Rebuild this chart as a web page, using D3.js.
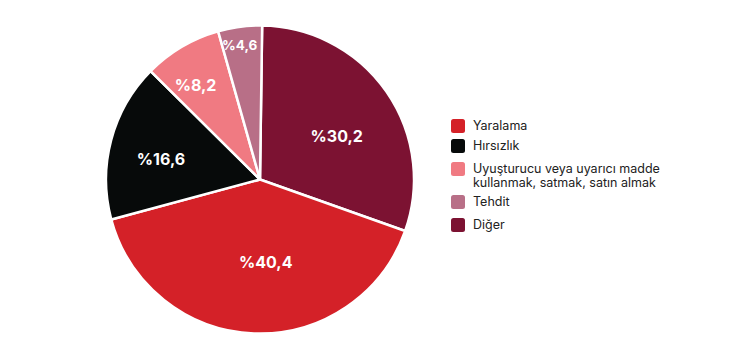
<!DOCTYPE html>
<html>
<head>
<meta charset="utf-8">
<script src="https://cdn.jsdelivr.net/npm/d3@7"></script>
<style>
  body { margin: 0; background: #fff; }
  svg { display: block; }
</style>
</head>
<body>
<div id="result"></div>
<script>
// chart data, clockwise from 12 o'clock
const categories = ['Diğer', 'Yaralama', 'Hırsızlık', 'Uyuşturucu veya uyarıcı madde kullanmak, satmak, satın almak', 'Tehdit'];
const values = [30.2, 40.4, 16.6, 8.2, 4.6];
const valueLabels = ['%30,2', '%40,4', '%16,6', '%8,2', '%4,6'];
const colors = ['#7c1232', '#d42128', '#070a0a', '#f07a82', '#b86f87'];

// legend order differs from the slice order
const legendOrder = ['Yaralama', 'Hırsızlık', 'Uyuşturucu veya uyarıcı madde kullanmak, satmak, satın almak', 'Tehdit', 'Diğer'];

const width = 744;
const height = 358;
const cx = 260;
const cy = 179.5;
const radius = 154;
const rot = 0.8 * Math.PI / 180; // pie is turned a hair clockwise

// where the percent labels sit, per slice (distance from centre, angle nudge in degrees)
const labelDist = [88, 83, 101, 114, 136];
const labelNudge = [5.5, -6.2, -3.4, -3.9, -1.1];

const svg = d3.select('#result')
  .append('svg')
  .attr('width', width)
  .attr('height', height);

const color = d3.scaleOrdinal().domain(categories).range(colors);

const pie = d3.pie().sort(null).value(d => d.value)
  .startAngle(rot).endAngle(2 * Math.PI + rot);
const arc = d3.arc().innerRadius(0).outerRadius(radius);

const data = categories.map((c, i) => ({ name: c, value: values[i], label: valueLabels[i] }));
const arcs = pie(data);

const g = svg.append('g').attr('transform', `translate(${cx}, ${cy})`);

g.selectAll('path')
  .data(arcs)
  .enter()
  .append('path')
    .attr('d', arc)
    .attr('fill', d => color(d.data.name))
    .attr('stroke', '#fff')
    .attr('stroke-width', 2.5)
    .attr('stroke-linejoin', 'round');

g.selectAll('text.value')
  .data(arcs)
  .enter()
  .append('text')
    .attr('class', 'value')
    .attr('transform', (d, i) => {
      const r = labelDist[i];
      const a = (d.startAngle + d.endAngle) / 2 + labelNudge[i] * Math.PI / 180;
      return `translate(${Math.sin(a) * r}, ${-Math.cos(a) * r})`;
    })
    .attr('text-anchor', 'middle')
    .attr('dy', '0.36em')
    .attr('fill', '#fff')
    .style('font-family', 'Inter, "Open Sans", sans-serif')
    .style('font-weight', 700)
    .style('font-size', d => d.data.value > 6 ? '16px' : '13.5px')
    .text(d => d.data.label);

// legend
const legend = svg.append('g').attr('transform', 'translate(451, 0)');
const rowY = [126, 146, 169, 202, 225];

legendOrder.forEach((name, i) => {
  const row = legend.append('g').attr('transform', `translate(0, ${rowY[i]})`);
  row.append('rect')
    .attr('x', 0)
    .attr('y', -7)
    .attr('width', 14)
    .attr('height', 14)
    .attr('rx', 2.5)
    .attr('fill', color(name));

  const lines = name.length > 30
    ? ['Uyuşturucu veya uyarıcı madde', 'kullanmak, satmak, satın almak']
    : [name];

  const t = row.append('text')
    .attr('x', 22)
    .attr('y', 4)
    .attr('fill', '#222')
    .style('font-family', 'Inter, "Open Sans", sans-serif')
    .style('font-size', '12.5px');
  lines.forEach((l, j) => {
    t.append('tspan').attr('x', 22).attr('dy', j === 0 ? 0 : 13.5).text(l);
  });
});
</script>
</body>
</html>
